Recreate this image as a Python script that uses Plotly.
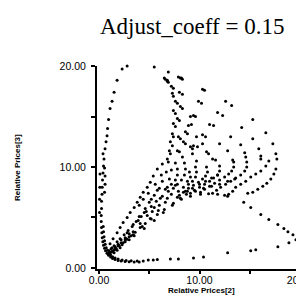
import plotly.graph_objects as go

# ---------------- data ----------------
outer_x = [3.3, 4.4, 4.6, 5.5, 6.9, 8.1, 8.3, 10.3, 10.5, 12.6, 13.2, 15.3, 16.6, 17.3, 17.6, 17.7,
           17.6, 17.4, 17.1, 16.7, 16.3, 15.8, 15.3, 14.8, 14.4, 15.1, 16.1, 16.9, 17.8, 18.4, 18.8,
           19.3, 19.8, 19.6, 18.9, 17.8, 15.6, 15.1, 12.8, 10.4, 9.4, 7.9, 7.1, 5.8, 5.4, 4.9, 4.4]
outer_y = [20.1, 20.2, 20.2, 19.9, 19.4, 18.8, 18.7, 17.7, 17.6, 16.5, 16.1, 14.7, 13.4, 12.3, 11.3, 10.8,
           9.8, 9.3, 8.8, 8.4, 8.1, 7.8, 7.5, 7.4, 6.5, 6.0, 5.3, 4.8, 4.3, 3.9, 3.6,
           3.3, 3.1, 2.8, 2.5, 2.1, 1.8, 1.7, 1.5, 1.1, 1.0, 0.9, 0.9, 0.85, 0.8, 0.8, 0.7]

corner_x = [4.0, 3.5, 3.0, 2.6, 2.2, 1.9, 1.6, 1.35, 1.15, 0.95, 0.8, 0.65, 0.55, 0.45, 0.38, 0.32,
            0.28, 0.25, 0.22, 0.22, 0.25, 0.25, 0.3, 0.32, 0.35, 0.4, 0.45, 0.5, 0.4, 0.6, 0.7,
            0.8, 0.85, 0.95, 1.1, 1.3, 1.5, 1.8, 2.3, 2.8,
            3.8, 3.2, 2.7, 2.3, 1.9, 1.6, 1.35, 1.15, 1.0, 0.85, 0.72, 0.62, 0.55, 0.5, 0.45, 0.42,
            0.55, 0.6, 0.6, 0.55, 0.05, 0.05, 0.08, 0.1]
corner_y = [0.6, 0.6, 0.62, 0.65, 0.7, 0.75, 0.85, 0.95, 1.1, 1.25, 1.45, 1.7, 1.95, 2.25, 2.6, 3.0,
            3.5, 4.0, 4.6, 5.2, 5.9, 6.6, 7.3, 8.0, 8.7, 9.4, 10.1, 10.8, 11.3, 11.8, 12.5,
            13.1, 13.8, 14.7, 15.8, 16.5, 17.4, 18.6, 19.7, 20.0,
            0.7, 0.72, 0.75, 0.8, 0.88, 0.98, 1.12, 1.3, 1.5, 1.75, 2.0, 2.35, 2.7, 3.1, 3.6, 4.1,
            7.5, 8.3, 9.1, 9.9, 5.5, 6.8, 8.0, 9.3]

column_x = [6.5, 6.8, 6.9, 7.9, 8.2, 7.2, 7.4, 7.3, 7.4, 8.0, 8.3, 7.6, 7.8, 8.1, 8.3, 7.4, 7.6,
            9.1, 7.8, 8.0, 7.4, 7.6, 8.9, 8.6, 8.8, 7.3, 7.4, 7.9, 8.1, 9.7, 8.4, 8.6,
            7.1, 7.3, 9.1, 9.3, 7.8, 8.0, 7.0, 7.1, 6.8, 6.9, 6.6, 6.8]
column_y = [18.8, 18.6, 18.4, 18.9, 18.8, 18.0, 17.8, 17.3, 17.0, 17.4, 17.2, 16.5, 16.3, 16.0, 15.8, 15.6, 15.3,
            15.0, 14.8, 14.6, 14.3, 14.0, 14.1, 13.5, 13.3, 13.3, 13.0, 13.0, 12.8, 13.0, 12.5, 12.3,
            12.5, 12.1, 12.0, 11.8, 11.6, 11.5, 11.6, 11.3, 10.8, 10.5, 18.7, 18.5]

arcs_top_x = [9.9, 10.2, 9.4, 9.6, 11.8, 12.3, 9.2, 11.0, 11.4, 14.2, 10.3, 10.6, 13.1, 15.3,
              9.4, 9.8, 10.3, 12.0, 14.1, 9.3, 10.7, 10.9, 12.8, 14.5, 15.9, 16.1,
              9.7, 11.3, 11.6, 13.3, 13.4, 14.6, 14.7, 16.1]
arcs_top_y = [16.5, 16.3, 15.1, 15.0, 15.4, 15.1, 14.2, 14.2, 14.1, 13.9, 13.2, 13.0, 13.0, 12.8,
              12.1, 12.0, 12.3, 12.3, 12.2, 11.3, 11.5, 11.3, 11.6, 11.4, 11.8, 11.1,
              10.6, 10.8, 10.7, 10.7, 10.5, 11.0, 10.5, 10.8]

arcs_low_x = [16.9, 16.6, 16.1, 15.6, 15.1, 14.6, 14.1, 13.6, 13.3, 12.9, 12.8,
              14.7, 14.5, 14.1, 13.6, 13.1, 12.6, 12.1, 11.7, 11.3,
              13.4, 13.2, 12.9, 12.5, 12.0, 11.5, 11.0, 10.5, 10.1,
              12.0, 12.0, 11.8, 11.4, 11.0, 10.5, 10.0, 9.5, 9.1,
              10.7, 10.8, 10.6, 10.3, 9.9, 9.4, 8.9, 8.4,
              9.6, 9.7, 9.6, 9.3, 8.9, 8.4, 7.9,
              8.3, 8.5, 8.6, 8.5, 8.2, 7.8, 7.4,
              7.6, 7.8, 7.8, 7.6, 7.2, 6.8]
arcs_low_y = [10.6, 10.1, 9.6, 9.3, 9.0, 8.6, 8.3, 8.0, 7.6, 7.3, 7.1,
              10.0, 9.6, 9.2, 8.9, 8.6, 8.3, 8.0, 7.7, 7.4,
              10.0, 9.6, 9.3, 9.0, 8.7, 8.4, 8.1, 7.8, 7.5,
              10.1, 9.6, 9.2, 8.9, 8.6, 8.3, 8.0, 7.7, 7.4,
              10.0, 9.5, 9.1, 8.8, 8.5, 8.2, 7.9, 7.5,
              10.0, 9.5, 9.0, 8.6, 8.3, 8.0, 7.6,
              11.0, 10.4, 9.8, 9.2, 8.7, 8.3, 7.9,
              10.4, 9.8, 9.2, 8.7, 8.3, 8.0]

band_x = [1.1, 1.4, 1.7, 2.0, 2.4, 2.8, 3.2, 3.6, 4.1, 4.6, 5.2, 5.8, 6.5, 7.4, 8.2, 9.1, 10.1, 10.9, 11.8, 12.5,
          1.1, 1.4, 1.8, 2.1, 2.4, 2.8, 3.1, 3.5, 3.8, 4.1, 4.4, 4.8, 5.1, 5.4, 5.8, 6.3,
          1.2, 1.5, 1.8, 2.1, 2.5, 2.9, 3.3, 3.7, 4.2, 4.7, 5.2, 5.7, 6.3, 6.9,
          1.6, 2.2, 2.8, 3.4, 4.0, 4.6, 5.2, 5.8, 6.3, 6.7,
          2.0, 2.7, 3.4, 4.1, 4.8, 5.5, 6.1, 6.6, 7.0, 7.2,
          2.6, 3.4, 4.3, 5.1, 5.9, 6.6, 7.2, 7.6,
          3.5, 4.5, 5.5, 6.4, 7.3, 8.1, 8.8,
          0.9, 1.0, 1.25, 1.3, 1.55, 1.9, 2.3, 2.6, 3.0]
band_y = [1.5, 1.7, 1.95, 2.2, 2.5, 2.85, 3.2, 3.55, 4.0, 4.4, 4.85, 5.3, 5.8, 6.4, 6.8, 7.1, 7.3, 7.35, 7.3, 7.2,
          2.4, 2.9, 3.5, 4.0, 4.5, 5.0, 5.5, 6.0, 6.5, 7.0, 7.5, 8.0, 8.5, 9.1, 9.8, 10.3,
          1.9, 2.2, 2.6, 2.9, 3.3, 3.7, 4.1, 4.6, 5.1, 5.6, 6.1, 6.6, 7.1, 7.6,
          2.1, 2.8, 3.5, 4.3, 5.1, 5.9, 6.8, 7.7, 8.6, 9.5,
          2.2, 2.9, 3.6, 4.4, 5.2, 6.0, 6.9, 7.8, 8.8, 9.7,
          2.6, 3.3, 4.1, 4.9, 5.7, 6.5, 7.3, 8.2,
          3.2, 3.9, 4.7, 5.5, 6.2, 6.9, 7.6,
          1.4, 1.7, 1.6, 2.0, 1.8, 2.35, 2.3, 3.0, 2.8]

fill_x = [8.0, 8.6, 9.3, 10.0, 10.6, 11.2, 11.8, 7.8, 8.7, 9.6, 10.4, 11.2, 12.0, 12.8, 13.5,
          9.0, 9.1, 8.8, 5.0, 5.5, 6.0, 5.3, 6.0, 6.8, 4.5, 3.9, 3.0,
          1.3, 1.6, 1.9, 2.2, 2.6, 3.0, 1.5, 1.8, 2.1, 4.9, 5.6, 6.2, 4.0, 4.4]
fill_y = [7.2, 7.6, 7.9, 8.3, 8.6, 8.9, 9.2, 7.0, 7.3, 7.6, 7.9, 8.1, 8.3, 8.6, 8.8,
          9.5, 9.0, 8.6, 6.5, 7.2, 7.9, 5.6, 6.2, 6.9, 5.5, 4.7, 3.4,
          1.6, 1.9, 2.2, 2.5, 2.8, 3.1, 1.5, 1.75, 2.0, 7.4, 8.3, 9.2, 6.2, 6.8]

x_ticks = [0, 5, 10, 15, 20]
x_tick_labels = ["0.00", "", "10.00", "", "20.00"]
y_ticks = [0, 5, 10, 15, 20]
y_tick_labels = ["0.00", "", "10.00", "", "20.00"]

title_text = "Adjust_coeff = 0.15"
x_label = "Relative Prices[2]"
y_label = "Relative Prices[3]"

all_x = outer_x + corner_x + column_x + arcs_top_x + arcs_low_x + band_x + fill_x
all_y = outer_y + corner_y + column_y + arcs_top_y + arcs_low_y + band_y + fill_y

fig = go.Figure()
fig.add_trace(go.Scatter(
    x=all_x, y=all_y, mode="markers",
    marker=dict(color="black", size=3, line=dict(width=0)),
    hoverinfo="skip", showlegend=False, cliponaxis=False))

axis_font = dict(family="Liberation Sans, Arial, sans-serif", size=10.5, color="black")
# the page body adds an 8px offset, so the figure is 296x289 and positions are shifted by -8px
fig.update_layout(
    width=296, height=289,
    margin=dict(l=89, r=0, t=58, b=28, autoexpand=False),
    paper_bgcolor="white", plot_bgcolor="white",
    xaxis=dict(range=[-0.2, 20.4], tickmode="array", tickvals=x_ticks, ticktext=x_tick_labels,
               showline=True, linecolor="black", linewidth=2, ticks="outside", ticklen=3,
               tickwidth=1.5, tickcolor="black", showgrid=False, zeroline=False,
               tickfont=axis_font, automargin=False, ticklabelstandoff=-3,
               ticklabeloverflow="allow"),
    yaxis=dict(range=[-0.1, 20.0], tickmode="array", tickvals=y_ticks, ticktext=y_tick_labels,
               showline=True, linecolor="black", linewidth=2, ticks="outside", ticklen=4,
               tickwidth=1.5, tickcolor="black", showgrid=False, zeroline=False,
               tickfont=axis_font, automargin=False, ticklabelstandoff=3),
    annotations=[
        dict(text=title_text, xref="paper", yref="paper", x=(192 - 97) / 207, y=(269 - 27) / 203,
             showarrow=False, xanchor="center", yanchor="middle",
             font=dict(family="Liberation Serif, Times New Roman, serif", size=23, color="black")),
        dict(text="<b>" + x_label + "</b>", xref="paper", yref="paper", x=(201 - 97) / 207,
             y=(269 - 290) / 203, showarrow=False, xanchor="center", yanchor="middle",
             font=dict(family="Liberation Sans, Arial, sans-serif", size=8, color="black")),
        dict(text="<b>" + y_label + "</b>", xref="paper", yref="paper", x=(17 - 97) / 207,
             y=(269 - 168) / 203, showarrow=False, xanchor="center", yanchor="middle", textangle=-90,
             font=dict(family="Liberation Sans, Arial, sans-serif", size=8, color="black")),
    ],
)

fig.write_html("out.html")
